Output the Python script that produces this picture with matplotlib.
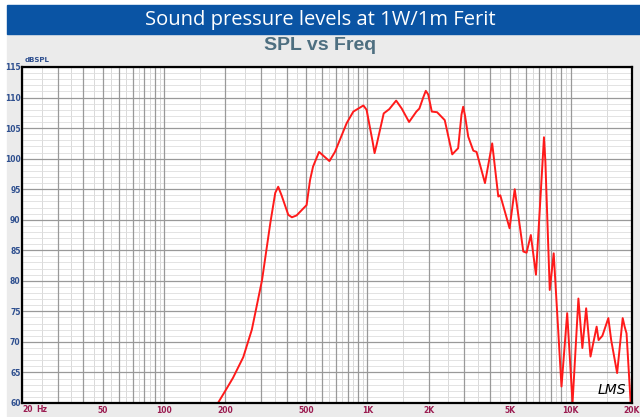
import matplotlib
matplotlib.use("Agg")
import matplotlib.pyplot as plt
import numpy as np
from matplotlib.patches import Rectangle

freq = [60, 100, 150, 184, 200, 218, 245, 270, 303, 333, 352, 364, 378, 408, 425,
        448, 502, 522, 540, 578, 650, 692, 790, 852, 955, 990, 1060, 1084, 1110,
        1202, 1280, 1384, 1474, 1602, 1740, 1800, 1880, 1936, 1990, 2072, 2200,
        2400, 2612, 2792, 2900, 2956, 3020, 3130, 3316, 3440, 3784, 4106, 4400,
        4500, 5000, 5300, 5840, 6060, 6360, 6740, 7250, 7380, 7500, 7880, 8240,
        9000, 9600, 10200, 10900, 11400, 11900, 12500, 13400, 13700, 14300,
        15300, 15800, 16900, 18000, 18400, 18800, 19700]
spl = [60.0, 60.0, 60.0, 60.0, 62.0, 64.1, 67.5, 72.0, 80.1, 89.5, 94.4, 95.4,
       94.0, 90.8, 90.4, 90.7, 92.4, 96.5, 98.7, 101.1, 99.6, 101.1, 105.8,
       107.7, 108.7, 108.0, 102.8, 100.9, 102.3, 107.4, 108.1, 109.5, 108.2,
       106.0, 107.7, 108.2, 110.0, 111.1, 110.5, 107.7, 107.6, 106.3, 100.7,
       101.7, 107.2, 108.5, 107.0, 103.6, 101.3, 101.1, 96.0, 102.5, 93.8, 94.0,
       88.6, 95.0, 84.8, 84.6, 87.5, 81.0, 99.0, 103.5, 99.5, 78.5, 84.5, 62.7,
       74.7, 60.0, 77.1, 69.0, 75.5, 67.6, 72.5, 70.3, 71.0, 73.9, 70.3, 64.9,
       73.9, 72.5, 71.4, 60.0]

y_ticks = [115, 110, 105, 100, 95, 90, 85, 80, 75, 70, 65, 60]
x_ticks = [50, 100, 200, 500, 1000, 2000, 5000, 10000, 20000]
x_labels = ["50", "100", "200", "500", "1K", "2K", "5K", "10K", "20K"]

fig = plt.figure(figsize=(6.4, 4.17), dpi=100)
W, H = 640, 417
RED = "#9b1b50"
BLUE = "#2e4f8f"

# background panels
fig.patches.append(Rectangle((7 / W, 0), 1 - 7 / W, 1 - 34 / H,
                             transform=fig.transFigure, color="#ebebeb", zorder=-10))
fig.patches.append(Rectangle((7 / W, 1 - 34 / H), 1 - 7 / W, 29 / H,
                             transform=fig.transFigure, color="#0a54a4", zorder=-10))
fig.text(0.5, 1 - 19.5 / H, "Sound pressure levels at 1W/1m Ferit", color="white",
         ha="center", va="center", fontsize=14.5, family="Open Sans")
fig.text(0.5, 1 - 46 / H, "SPL vs Freq", color="#4e6f80", ha="center", va="center",
         fontsize=14, fontweight="bold", family="Liberation Sans")
fig.text(25 / W, 1 - 60 / H, "dBSPL", color=BLUE, ha="left", va="center",
         fontsize=5, fontweight="bold")

ax = fig.add_axes([22 / W, 14 / H, 610 / W, 336 / H])
ax.set_facecolor("white")
ax.set_xscale("log")
ax.set_xlim(20, 20000)
ax.set_ylim(60, 115)

# grid: darker at 1..9 x decade, light half-steps
for dec in [10, 100, 1000, 10000]:
    for n in range(1, 10):
        f = n * dec
        if 20 <= f <= 20000:
            ax.axvline(f, color="#999999", lw=0.9, zorder=1)
        fm = (n + 0.5) * dec
        if 20 < fm < 20000:
            ax.axvline(fm, color="#d9d9d9", lw=0.7, zorder=0.5)
for v in range(60, 116):
    if v % 5 == 0:
        ax.axhline(v, color="#999999", lw=0.9, zorder=1)
    else:
        ax.axhline(v, color="#dedede", lw=0.6, zorder=0.5)

ax.plot(freq, spl, color="#ff1a1a", lw=1.4, zorder=3, clip_on=True)

ax.set_xticks(x_ticks)
ax.set_xticklabels(x_labels)
ax.xaxis.set_minor_locator(matplotlib.ticker.NullLocator())
ax.set_yticks(y_ticks)
ax.tick_params(length=0, pad=2)
ax.tick_params(axis="x", labelsize=5.5, labelcolor=RED)
ax.tick_params(axis="y", labelsize=5.5, labelcolor=BLUE, pad=1)
for lab in ax.get_xticklabels() + ax.get_yticklabels():
    lab.set_fontweight("bold")
fig.text(22.5 / W, 1 - 410 / H, "20", color=RED, fontsize=5.5, fontweight="bold",
         ha="left", va="center")
fig.text(36 / W, 1 - 410 / H, "Hz", color=RED, fontsize=5.5, fontweight="bold",
         ha="left", va="center")
for s in ax.spines.values():
    s.set_linewidth(1.6)
    s.set_color("black")
    s.set_zorder(4)

ax.text(15900, 62.2, "LMS", fontsize=10, style="italic", color="black",
        ha="center", va="center", family="DejaVu Sans", zorder=4)

fig.savefig("out.png", dpi=100)
